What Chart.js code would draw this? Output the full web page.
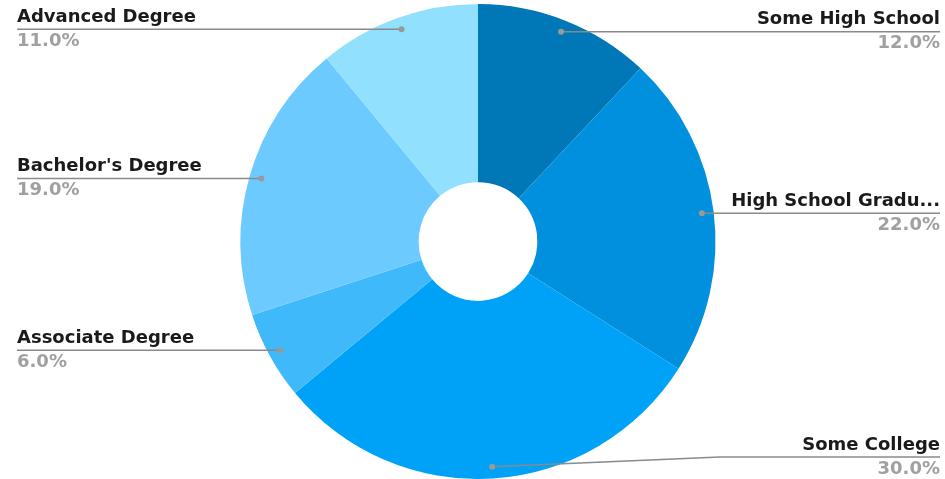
<!DOCTYPE html>
<html>
<head>
<meta charset="utf-8">
<script src="https://cdn.jsdelivr.net/npm/chart.js@4/dist/chart.umd.min.js"></script>
<style>
  html, body { margin: 0; padding: 0; background: #fff; }
  #wrap { width: 945px; height: 479px; }
</style>
</head>
<body>
<div id="wrap"><canvas id="eduChart" width="945" height="479"></canvas></div>
<script>
// Dados do gráfico
const categorias = ['Some High School', 'High School Graduate', 'Some College', 'Associate Degree', "Bachelor's Degree", 'Advanced Degree'];
const percentuais = [12, 22, 30, 6, 19, 11];
const cores = ['#0077b6', '#0090dd', '#00a2f7', '#40b9fb', '#6ccaff', '#90e0fe'];

// Corta o nome se for comprido demais
function encurta(txt) {
    return txt.length > 18 ? txt.slice(0, 17) + '...' : txt;
}

// Rótulos com linha guia
const rotulosExternos = {
    id: 'rotulosExternos',
    afterDatasetsDraw(chart) {
        const ctx = chart.ctx;
        const meta = chart.getDatasetMeta(0);
        const total = percentuais.reduce((s, v) => s + v, 0);
        const larg = chart.width;

        meta.data.forEach((arc, i) => {
            const p = arc.getProps(['x', 'y', 'startAngle', 'endAngle', 'outerRadius'], true);
            const ang = (p.startAngle + p.endAngle) / 2;
            const r = p.outerRadius * 0.95;
            const px = p.x + Math.cos(ang) * r;
            const py = p.y + Math.sin(ang) * r;
            const direita = Math.cos(ang) >= 0;
            const ly = Math.min(Math.max(py, 29), chart.height - 22);
            const xFim = direita ? larg - 5 : 17;

            ctx.save();
            ctx.strokeStyle = '#8a8a8a';
            ctx.lineWidth = 1.5;
            ctx.beginPath();
            ctx.moveTo(px, py);
            if (Math.abs(ly - py) > 1) {
                const xMeio = direita ? xFim - 220 : xFim + 220;
                ctx.lineTo(xMeio, ly);
            }
            ctx.lineTo(xFim, ly);
            ctx.stroke();

            ctx.fillStyle = '#999';
            ctx.beginPath();
            ctx.arc(px, py, 3, 0, Math.PI * 2);
            ctx.fill();

            ctx.textAlign = direita ? 'right' : 'left';
            ctx.font = 'bold 18px "DejaVu Sans", Verdana, sans-serif';
            ctx.fillStyle = '#1a1a1a';
            ctx.textBaseline = 'bottom';
            ctx.fillText(encurta(categorias[i]), xFim, ly - 3);
            ctx.fillStyle = '#a0a0a0';
            ctx.textBaseline = 'top';
            ctx.fillText((percentuais[i] / total * 100).toFixed(1) + '%', xFim, ly + 3);
            ctx.restore();
        });
    }
};

new Chart(document.getElementById('eduChart').getContext('2d'), {
    type: 'doughnut',
    data: {
        labels: categorias,
        datasets: [{
            data: percentuais,
            backgroundColor: cores,
            borderWidth: 0
        }]
    },
    options: {
        responsive: false,
        animation: false,
        cutout: '25%',
        layout: { padding: { top: 4, bottom: 0, left: 11, right: 0 } },
        plugins: {
            legend: { display: false },
            tooltip: { enabled: false }
        }
    },
    plugins: [rotulosExternos]
});
</script>
</body>
</html>
